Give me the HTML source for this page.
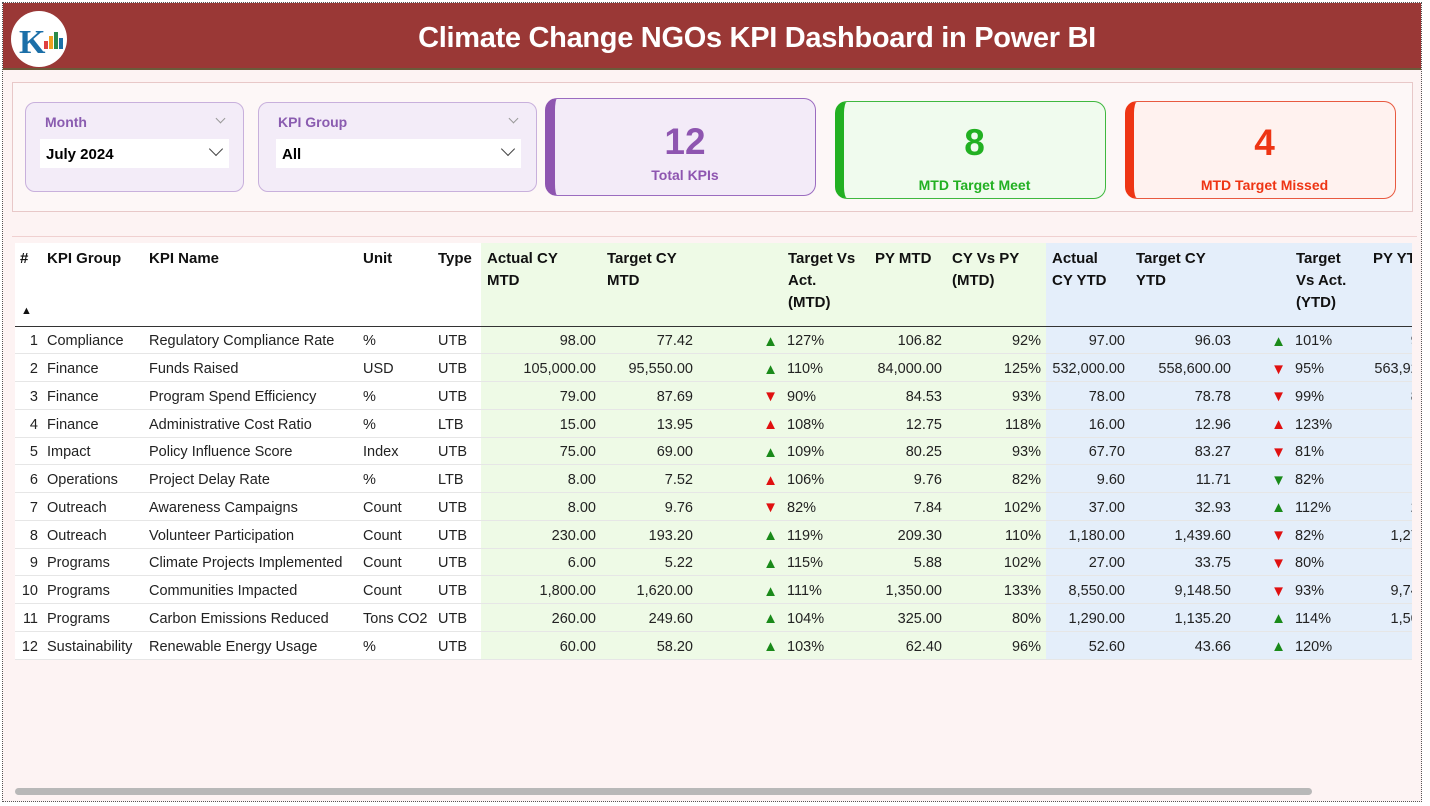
<!DOCTYPE html>
<html><head><meta charset="utf-8"><style>
*{box-sizing:border-box;margin:0;padding:0}
body{width:1430px;height:806px;background:#fff;font-family:"Liberation Sans",sans-serif;position:relative;overflow:hidden}
.page{position:absolute;left:2px;top:2px;width:1420px;height:800px;border:1px dotted #555;background:#fdf3f3}
.hdr{position:absolute;left:3px;top:3px;width:1418px;height:67px;background:#9a3836;border-bottom:2px solid #6b5a3a}
.hdr h1{position:absolute;left:90px;right:0;top:19px;text-align:center;color:#fff;font-size:29px;font-weight:bold;letter-spacing:-0.3px}
.logo{position:absolute;left:8px;top:8px;width:56px;height:56px;border-radius:50%;background:#fff}
.panel{position:absolute;left:12px;top:82px;width:1401px;height:130px;border:1px solid #e8c8c8;background:#fdf7f7}
.slicer{position:absolute;border:1px solid #c8b0dc;border-radius:10px;background:#f3ecf8}
.slicer .t{position:absolute;left:19px;top:11px;color:#8a5cb0;font-weight:bold;font-size:14px}
.slicer .v{position:absolute;left:14px;top:36px;height:29px;background:#fff;font-weight:bold;font-size:15px;padding:7px 6px}
.chev{position:absolute;right:8px;top:5px;width:10px;height:10px;border-right:1.5px solid #444;border-bottom:1.5px solid #444;transform:rotate(45deg)}
.chs{position:absolute;right:19px;top:12px;width:7px;height:7px;border-right:1px solid #999;border-bottom:1px solid #999;transform:rotate(45deg)}
.card{position:absolute;border-radius:12px;text-align:center}
.card .n{font-size:37px;font-weight:bold;position:absolute;left:0;right:0}
.card .l{font-size:14px;font-weight:bold;position:absolute;left:0;right:0}
.tw{position:absolute;left:15px;top:243px;width:1397px;height:418px;overflow:hidden}
table{border-collapse:collapse;table-layout:fixed;width:1437px;font-size:14.5px;color:#222}
th{height:83px;vertical-align:top;text-align:left;font-weight:bold;font-size:15px;line-height:22px;padding-top:5px;border-bottom:1px solid #333;color:#111}
td{height:27.75px;border-bottom:1px solid #e6e6e6;white-space:nowrap;padding:3px 5px 0 5px}
.g{background:#eefae6}.b{background:#e4eefa}
.r{text-align:right}
.up{color:#1a8a1a}.dn{color:#e01010}
.ar{text-align:right;padding-right:4px;font-size:15px}
</style></head><body>
<div class="page"></div>
<div class="hdr"><div class="logo"><svg width="56" height="56"><text x="8" y="42" font-size="34" font-weight="bold" fill="#1b6fa8" font-family="Liberation Serif">K</text><rect x="33" y="30" width="4" height="8" fill="#e04040"/><rect x="38" y="25" width="4" height="13" fill="#f0a020"/><rect x="43" y="21" width="4" height="17" fill="#2a8a4a"/><rect x="48" y="27" width="4" height="11" fill="#1b6fa8"/></svg></div><h1>Climate Change NGOs KPI Dashboard in Power BI</h1></div>
<div class="panel"></div>
<div class="slicer" style="left:25px;top:102px;width:219px;height:90px"><div class="t">Month</div><div class="chs"></div><div class="v" style="width:189px">July 2024<span class="chev"></span></div></div>
<div class="slicer" style="left:258px;top:102px;width:279px;height:90px"><div class="t">KPI Group</div><div class="chs"></div><div class="v" style="left:17px;width:245px">All<span class="chev"></span></div></div>
<div class="card" style="left:545px;top:98px;width:271px;height:98px;background:#f3ebf8;border:1px solid #9b6cc0;border-left:10px solid #8e55b0;color:#8e55b0"><div class="n" style="top:22px">12</div><div class="l" style="top:68px">Total KPIs</div></div>
<div class="card" style="left:835px;top:101px;width:271px;height:98px;background:#f0fbee;border:1px solid #3fb83f;border-left:9px solid #22b022;color:#22b022"><div class="n" style="top:20px">8</div><div class="l" style="top:75px">MTD Target Meet</div></div>
<div class="card" style="left:1125px;top:101px;width:271px;height:98px;background:#fff2ef;border:1px solid #e85a40;border-left:9px solid #ee3514;color:#ee3514"><div class="n" style="top:20px">4</div><div class="l" style="top:75px">MTD Target Missed</div></div>
<div class="tw"><table>
<colgroup><col style="width:27px"><col style="width:102px"><col style="width:214px"><col style="width:75px"><col style="width:48px"><col style="width:120px"><col style="width:97px"><col style="width:84px"><col style="width:86px"><col style="width:79px"><col style="width:99px"><col style="width:84px"><col style="width:106px"><col style="width:54px"><col style="width:77px"><col style="width:85px"></colgroup>
<tr style="background:#fff"><th style="padding-left:5px;position:relative">#<span style="position:absolute;left:6px;bottom:4px;font-size:11px">&#9650;</span></th><th style="padding-left:5px">KPI Group</th><th style="padding-left:5px">KPI Name</th><th style="padding-left:5px">Unit</th><th style="padding-left:5px">Type</th><th class="g" style="padding-left:6px">Actual CY<br>MTD</th><th class="g" style="padding-left:6px">Target CY<br>MTD</th><th class="g"></th><th class="g" style="padding-left:6px">Target Vs<br>Act.<br>(MTD)</th><th class="g" style="padding-left:7px">PY MTD</th><th class="g" style="padding-left:5px">CY Vs PY<br>(MTD)</th><th class="b" style="padding-left:6px">Actual<br>CY YTD</th><th class="b" style="padding-left:6px">Target CY<br>YTD</th><th class="b"></th><th class="b" style="padding-left:6px">Target<br>Vs Act.<br>(YTD)</th><th class="b" style="padding-left:6px">PY YTD</th></tr>
<tr><td class="r" style="background:#fff;padding-right:4px">1</td><td style="background:#fff">Compliance</td><td style="background:#fff">Regulatory Compliance Rate</td><td style="background:#fff">%</td><td style="background:#fff">UTB</td><td class="g r">98.00</td><td class="g r">77.42</td><td class="g ar up">&#9650;</td><td class="g">127%</td><td class="g r">106.82</td><td class="g r">92%</td><td class="b r">97.00</td><td class="b r">96.03</td><td class="b ar up">&#9650;</td><td class="b">101%</td><td class="b r">96.00</td></tr>
<tr><td class="r" style="background:#fff;padding-right:4px">2</td><td style="background:#fff">Finance</td><td style="background:#fff">Funds Raised</td><td style="background:#fff">USD</td><td style="background:#fff">UTB</td><td class="g r">105,000.00</td><td class="g r">95,550.00</td><td class="g ar up">&#9650;</td><td class="g">110%</td><td class="g r">84,000.00</td><td class="g r">125%</td><td class="b r">532,000.00</td><td class="b r">558,600.00</td><td class="b ar dn">&#9660;</td><td class="b">95%</td><td class="b r">563,920.00</td></tr>
<tr><td class="r" style="background:#fff;padding-right:4px">3</td><td style="background:#fff">Finance</td><td style="background:#fff">Program Spend Efficiency</td><td style="background:#fff">%</td><td style="background:#fff">UTB</td><td class="g r">79.00</td><td class="g r">87.69</td><td class="g ar dn">&#9660;</td><td class="g">90%</td><td class="g r">84.53</td><td class="g r">93%</td><td class="b r">78.00</td><td class="b r">78.78</td><td class="b ar dn">&#9660;</td><td class="b">99%</td><td class="b r">84.00</td></tr>
<tr><td class="r" style="background:#fff;padding-right:4px">4</td><td style="background:#fff">Finance</td><td style="background:#fff">Administrative Cost Ratio</td><td style="background:#fff">%</td><td style="background:#fff">LTB</td><td class="g r">15.00</td><td class="g r">13.95</td><td class="g ar dn">&#9650;</td><td class="g">108%</td><td class="g r">12.75</td><td class="g r">118%</td><td class="b r">16.00</td><td class="b r">12.96</td><td class="b ar dn">&#9650;</td><td class="b">123%</td><td class="b r">14.0</td></tr>
<tr><td class="r" style="background:#fff;padding-right:4px">5</td><td style="background:#fff">Impact</td><td style="background:#fff">Policy Influence Score</td><td style="background:#fff">Index</td><td style="background:#fff">UTB</td><td class="g r">75.00</td><td class="g r">69.00</td><td class="g ar up">&#9650;</td><td class="g">109%</td><td class="g r">80.25</td><td class="g r">93%</td><td class="b r">67.70</td><td class="b r">83.27</td><td class="b ar dn">&#9660;</td><td class="b">81%</td><td class="b r">70.0</td></tr>
<tr><td class="r" style="background:#fff;padding-right:4px">6</td><td style="background:#fff">Operations</td><td style="background:#fff">Project Delay Rate</td><td style="background:#fff">%</td><td style="background:#fff">LTB</td><td class="g r">8.00</td><td class="g r">7.52</td><td class="g ar dn">&#9650;</td><td class="g">106%</td><td class="g r">9.76</td><td class="g r">82%</td><td class="b r">9.60</td><td class="b r">11.71</td><td class="b ar up">&#9660;</td><td class="b">82%</td><td class="b r">6.00</td></tr>
<tr><td class="r" style="background:#fff;padding-right:4px">7</td><td style="background:#fff">Outreach</td><td style="background:#fff">Awareness Campaigns</td><td style="background:#fff">Count</td><td style="background:#fff">UTB</td><td class="g r">8.00</td><td class="g r">9.76</td><td class="g ar dn">&#9660;</td><td class="g">82%</td><td class="g r">7.84</td><td class="g r">102%</td><td class="b r">37.00</td><td class="b r">32.93</td><td class="b ar up">&#9650;</td><td class="b">112%</td><td class="b r">29.00</td></tr>
<tr><td class="r" style="background:#fff;padding-right:4px">8</td><td style="background:#fff">Outreach</td><td style="background:#fff">Volunteer Participation</td><td style="background:#fff">Count</td><td style="background:#fff">UTB</td><td class="g r">230.00</td><td class="g r">193.20</td><td class="g ar up">&#9650;</td><td class="g">119%</td><td class="g r">209.30</td><td class="g r">110%</td><td class="b r">1,180.00</td><td class="b r">1,439.60</td><td class="b ar dn">&#9660;</td><td class="b">82%</td><td class="b r">1,270.00</td></tr>
<tr><td class="r" style="background:#fff;padding-right:4px">9</td><td style="background:#fff">Programs</td><td style="background:#fff">Climate Projects Implemented</td><td style="background:#fff">Count</td><td style="background:#fff">UTB</td><td class="g r">6.00</td><td class="g r">5.22</td><td class="g ar up">&#9650;</td><td class="g">115%</td><td class="g r">5.88</td><td class="g r">102%</td><td class="b r">27.00</td><td class="b r">33.75</td><td class="b ar dn">&#9660;</td><td class="b">80%</td><td class="b r">2.0</td></tr>
<tr><td class="r" style="background:#fff;padding-right:4px">10</td><td style="background:#fff">Programs</td><td style="background:#fff">Communities Impacted</td><td style="background:#fff">Count</td><td style="background:#fff">UTB</td><td class="g r">1,800.00</td><td class="g r">1,620.00</td><td class="g ar up">&#9650;</td><td class="g">111%</td><td class="g r">1,350.00</td><td class="g r">133%</td><td class="b r">8,550.00</td><td class="b r">9,148.50</td><td class="b ar dn">&#9660;</td><td class="b">93%</td><td class="b r">9,740.00</td></tr>
<tr><td class="r" style="background:#fff;padding-right:4px">11</td><td style="background:#fff">Programs</td><td style="background:#fff">Carbon Emissions Reduced</td><td style="background:#fff">Tons CO2</td><td style="background:#fff">UTB</td><td class="g r">260.00</td><td class="g r">249.60</td><td class="g ar up">&#9650;</td><td class="g">104%</td><td class="g r">325.00</td><td class="g r">80%</td><td class="b r">1,290.00</td><td class="b r">1,135.20</td><td class="b ar up">&#9650;</td><td class="b">114%</td><td class="b r">1,500.00</td></tr>
<tr><td class="r" style="background:#fff;padding-right:4px">12</td><td style="background:#fff">Sustainability</td><td style="background:#fff">Renewable Energy Usage</td><td style="background:#fff">%</td><td style="background:#fff">UTB</td><td class="g r">60.00</td><td class="g r">58.20</td><td class="g ar up">&#9650;</td><td class="g">103%</td><td class="g r">62.40</td><td class="g r">96%</td><td class="b r">52.60</td><td class="b r">43.66</td><td class="b ar up">&#9650;</td><td class="b">120%</td><td class="b r">5.0</td></tr>
</table></div>
<div style="position:absolute;left:12px;top:236px;width:1405px;height:1px;background:#f0d0d0"></div>
<div style="position:absolute;left:15px;top:788px;width:1297px;height:7px;border-radius:4px;background:#b8b8b8"></div>
</body></html>
